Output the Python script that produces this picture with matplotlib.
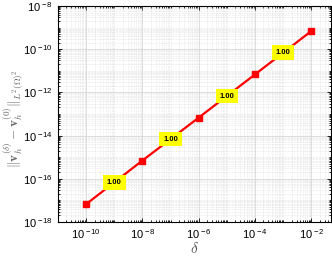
import matplotlib
matplotlib.use("Agg")
import matplotlib.pyplot as plt
import numpy as np
from matplotlib.ticker import LogLocator, FixedLocator, FuncFormatter, NullFormatter

delta = [1e-10, 1e-8, 1e-6, 1e-4, 1e-2]
err = [6.7e-18, 7.0e-16, 6.8e-14, 6.8e-12, 6.9e-10]
rates = ["1.00", "1.00", "1.00", "1.00"]

plt.rcParams["mathtext.fontset"] = "custom"
plt.rcParams["mathtext.rm"] = "Liberation Sans"
plt.rcParams["mathtext.bf"] = "Liberation Sans:bold"
plt.rcParams["mathtext.it"] = "Liberation Sans:italic"

fig = plt.figure(figsize=(3.32, 2.56), dpi=100)
ax = fig.add_axes([58/332, 1-222/256, (331-58)/332, (222-6)/256])
ax.set_xscale("log")
ax.set_yscale("log")
ax.plot(delta, err, color="red", lw=1.6, marker="s", ms=4.5, mec="red", mfc="red", zorder=3)

for i, r in enumerate(rates):
    xm = np.sqrt(delta[i]*delta[i+1])
    ym = np.sqrt(err[i]*err[i+1])
    ax.text(xm, ym, r, ha="center", va="center", fontsize=5.5, fontweight="bold",
            family="Liberation Sans",
            bbox=dict(boxstyle="square,pad=0.5", fc="yellow", ec="none"), zorder=4)

ax.set_xlim(1e-11, 10**-1.3)
ax.set_ylim(1e-18, 1e-8)

xt = [1e-10, 1e-8, 1e-6, 1e-4, 1e-2]
yt = [1e-18, 1e-16, 1e-14, 1e-12, 1e-10, 1e-8]
ax.xaxis.set_major_locator(FixedLocator(xt))
ax.yaxis.set_major_locator(FixedLocator(yt))
ax.xaxis.set_minor_locator(LogLocator(base=10, subs=np.arange(1, 10), numticks=100))
ax.yaxis.set_minor_locator(LogLocator(base=10, subs=np.arange(1, 10), numticks=100))
ax.xaxis.set_minor_formatter(NullFormatter())
ax.yaxis.set_minor_formatter(NullFormatter())

def fmt(v, pos):
    e = int(round(np.log10(v)))
    return r"$10^{\ \mathrm{-%d}}$" % abs(e)
ax.xaxis.set_major_formatter(FuncFormatter(fmt))
ax.yaxis.set_major_formatter(FuncFormatter(fmt))

ax.tick_params(which="both", direction="in", top=True, right=True, labelsize=8, width=0.6)
ax.tick_params(which="major", length=3, pad=4)
ax.tick_params(which="minor", length=1.5)
ax.grid(True, which="major", color="#d8d8d8", lw=0.6)
ax.grid(True, which="minor", color="#d0d0d0", lw=0.4, ls=":")
ax.set_axisbelow(True)
for s in ax.spines.values():
    s.set_linewidth(0.8)

xl = ax.set_xlabel(r"$\delta$", fontsize=11, color="#555555", labelpad=0)
xl.set_math_fontfamily("cm")
yl = ax.set_ylabel(r"$\|\mathbf{v}_h^{(\delta)} - \mathbf{v}_h^{(0)}\|_{L^2(\Omega)^2}$", fontsize=9.5, color="#666666")
yl.set_math_fontfamily("cm")
ax.yaxis.set_label_coords(-0.12, 0.48)

fig.savefig("out.png", dpi=100)
